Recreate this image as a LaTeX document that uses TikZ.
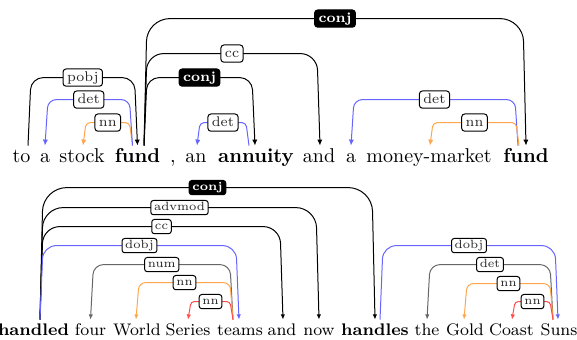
\documentclass[tikz,border=0pt]{standalone}
\usetikzlibrary{calc,arrows.meta}
\newcommand\depedge[9]{%
  \draw[#1,rounded corners={#6*0.09pt}] ($(#2.north)+(#3,0)$) -- ($(#2.north)+(#3,0)+(3,-#6)$)
    -- node[#7] (#8) {#9} ($(#4.north)+(#5,0)+(-3,-#6)$) -- ($(#4.north)+(#5,0)$);}
\begin{document}
\begin{tikzpicture}[x=0.5pt,y=-0.5pt,
  wordA/.style={anchor=base,inner sep=0pt,text height=8.5pt,text depth=2pt,font=\fontsize{10}{12}\selectfont},
  wordB/.style={anchor=base,inner sep=0pt,text height=8pt,text depth=2pt,font=\fontsize{8.4}{10}\selectfont},
  edgeA/.style={line width=0.5pt},
  tipA/.style={-{Latex[length=3pt,width=2.6pt]}},
  tipAL/.style={{Latex[length=3pt,width=2.6pt]}-},
  tipB/.style={-{Latex[length=2.6pt,width=2.2pt]}},
  tipBL/.style={{Latex[length=2.6pt,width=2.2pt]}-},
  cblue/.style={draw=blue!60},
  corange/.style={draw=orange!70},
  cred/.style={draw=red!70},
  cgray/.style={draw=black!60},
  cblack/.style={draw=black},
  labA/.style={draw=black,fill=white,text=black!85,rounded corners=1.5pt,line width=0.5pt,
    font=\fontsize{7}{8}\selectfont,inner xsep=2pt,inner ysep=1.1pt,text height=5pt,text depth=1.4pt},
  labAk/.style={labA,fill=black,text=white,font=\fontsize{7}{8}\selectfont\bfseries},
  labB/.style={draw=black,fill=white,text=black!85,rounded corners=1.3pt,line width=0.5pt,
    font=\fontsize{6}{7}\selectfont,inner xsep=1.6pt,inner ysep=0.8pt,text height=4.3pt,text depth=1.2pt},
  labBk/.style={labB,fill=black,text=white,font=\fontsize{6}{7}\selectfont\bfseries},
]
\useasboundingbox (0,0) rectangle (577,340);
% row 1 words
\node[wordA] (r1to) at (21.5,163) {to};
\node[wordA] (r1a) at (45,163) {a};
\node[wordA] (r1stock) at (82,163) {stock};
\node[wordA] (r1fund) at (137.5,163) {\textbf{fund}};
\node[wordA] (r1comma) at (173,163) {,};
\node[wordA] (r1an) at (196,163) {an};
\node[wordA] (r1annuity) at (256,163) {\textbf{annuity}};
\node[wordA] (r1and) at (319,163) {and};
\node[wordA] (r1a2) at (351,163) {a};
\node[wordA] (r1mm) at (429,163) {money-market};
\node[wordA] (r1fund2) at (526,163) {\textbf{fund}};
% row 1 edges
\depedge{edgeA,corange,tipAL}{r1stock}{1}{r1fund}{-5}{23}{labA}{l1}{nn}
\depedge{edgeA,cblue,tipAL}{r1a}{0}{r1fund}{-5}{46}{labA}{l2}{det}
\depedge{edgeA,cblack,tipA}{r1to}{6.5}{r1fund}{0}{68}{labA}{l3}{pobj}
\depedge{edgeA,cblack,tipA}{r1fund}{6.5}{r1annuity}{-1}{68}{labAk}{l4}{conj}
\depedge{edgeA,cblack,tipA}{r1fund}{6.5}{r1and}{1}{92}{labA}{l5}{cc}
\depedge{edgeA,cblack,tipA}{r1fund}{6.5}{r1fund2}{0}{127}{labAk}{l6}{conj}
\depedge{edgeA,cblue,tipAL}{r1an}{1}{r1annuity}{-7}{23}{labA}{l7}{det}
\depedge{edgeA,cblue,tipAL}{r1a2}{0}{r1fund2}{-8}{46}{labA}{l8}{det}
\depedge{edgeA,corange,tipAL}{r1mm}{1}{r1fund2}{-7}{23}{labA}{l9}{nn}
% row 2 words
\node[wordB] (handled) at (33.5,336) {\textbf{handled}};
\node[wordB] (four) at (90.5,336) {four};
\node[wordB] (world) at (137,336) {World};
\node[wordB] (series) at (188,336) {Series};
\node[wordB] (teams) at (240,336) {teams};
\node[wordB] (and2) at (282,336) {and};
\node[wordB] (now) at (319,336) {now};
\node[wordB] (handles) at (375,336) {\textbf{handles}};
\node[wordB] (the) at (427,336) {the};
\node[wordB] (gold) at (465,336) {Gold};
\node[wordB] (coast) at (511.5,336) {Coast};
\node[wordB] (suns) at (559,336) {Suns};
% row 2 edges
\depedge{edgeA,cblack,tipB}{handled}{6.5}{handles}{0}{132}{labBk}{m1}{conj}
\depedge{edgeA,cblack,tipB}{handled}{6.5}{now}{0}{112}{labB}{m2}{advmod}
\depedge{edgeA,cblack,tipB}{handled}{6.5}{and2}{1}{93}{labB}{m3}{cc}
\depedge{edgeA,cblue,tipB}{handled}{6.5}{teams}{-1}{74}{labB}{m4}{dobj}
\depedge{edgeA,cgray,tipBL}{four}{0}{teams}{-7}{55}{labB}{m5}{num}
\depedge{edgeA,corange,tipBL}{world}{-1}{teams}{-7}{37}{labB}{m6}{nn}
\depedge{edgeA,cred,tipBL}{series}{0}{teams}{-7}{18}{labB}{m7}{nn}
\depedge{edgeA,cblue,tipB}{handles}{5}{suns}{-1}{74}{labB}{m8}{dobj}
\depedge{edgeA,cgray,tipBL}{the}{0}{suns}{-6}{55}{labB}{m9}{det}
\depedge{edgeA,corange,tipBL}{gold}{-1}{suns}{-6}{36}{labB}{m10}{nn}
\depedge{edgeA,cred,tipBL}{coast}{0.5}{suns}{-6}{18}{labB}{m11}{nn}
\end{tikzpicture}
\end{document}
